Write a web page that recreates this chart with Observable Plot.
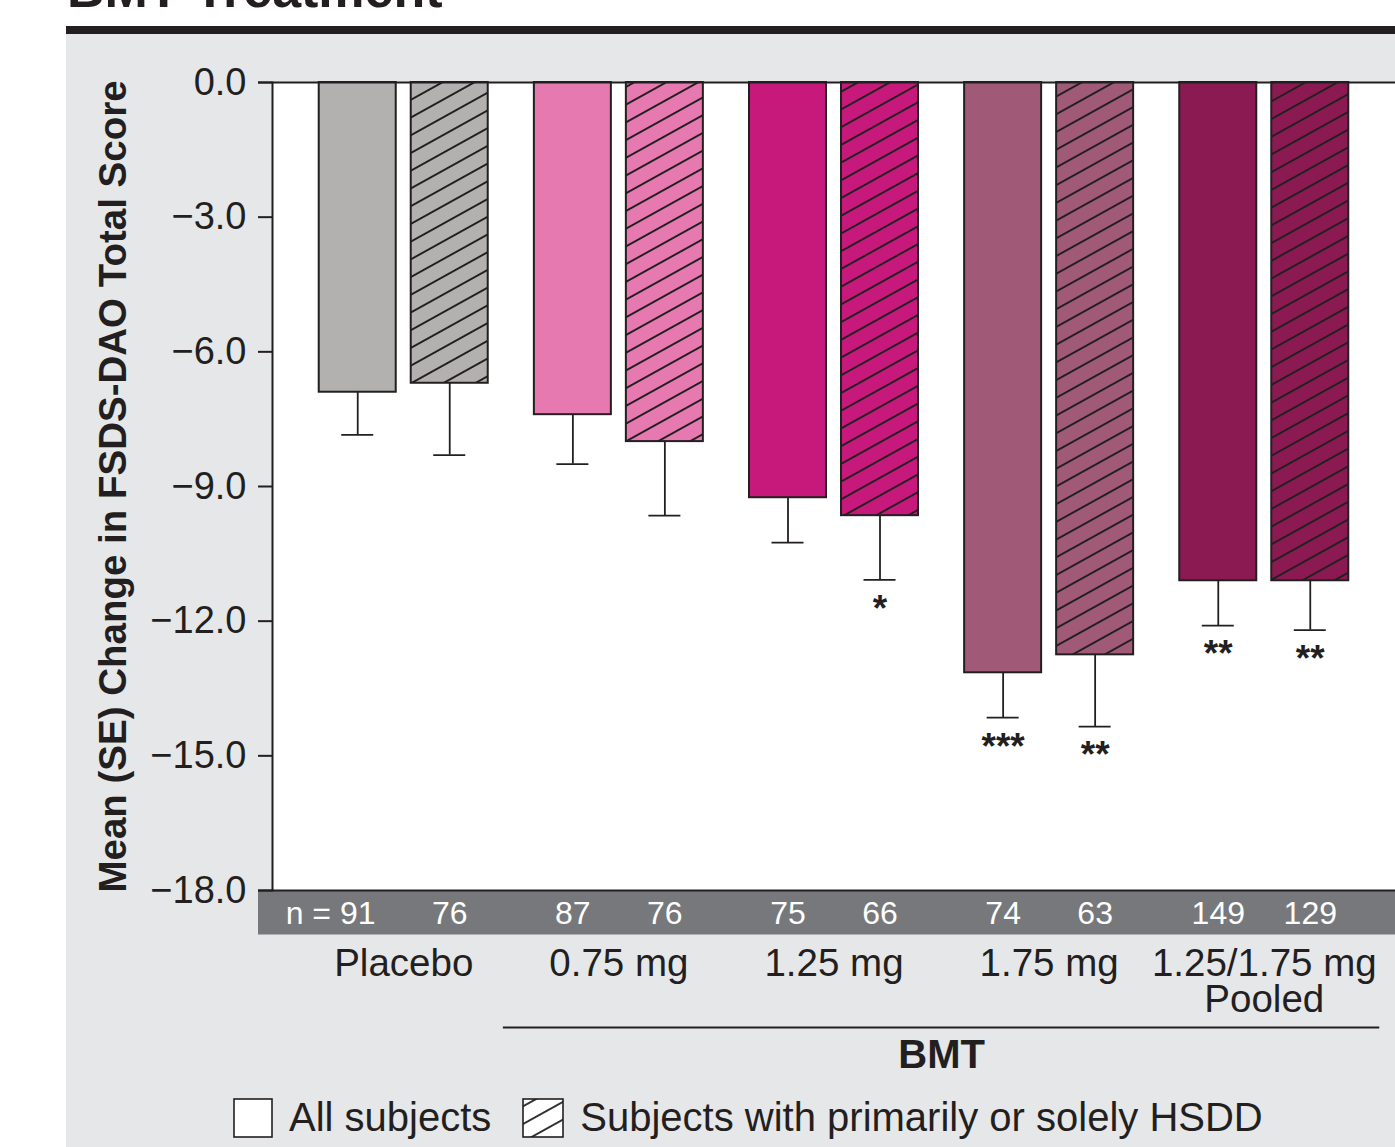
<!DOCTYPE html>
<html>
<head>
<meta charset="utf-8">
<script src="https://cdn.jsdelivr.net/npm/d3@7"></script>
<script src="https://cdn.jsdelivr.net/npm/@observablehq/plot@0.6"></script>
<style>
  body { margin: 0; background: #fff; font-family: "Liberation Sans", Arial, Helvetica, sans-serif; color: #231f20; }
  #page { position: relative; width: 1395px; height: 1147px; overflow: hidden; }
  #title { position: absolute; left: 67px; top: -41px; font-size: 52px; font-weight: bold; line-height: 60px; white-space: nowrap; }
  #panel { position: absolute; left: 66px; top: 26px; width: 1329px; height: 1113px; border-top: 8px solid #231f20; background: #e6e7e9; }
  #chart { position: absolute; left: 0; top: 0; }
  #legend { position: absolute; left: 167px; top: 1061px; display: flex; align-items: center; font-size: 40px; white-space: nowrap; }
  #legend svg { display: block; }
  .lab { margin-left: 16px; }
  .gap { width: 31px; }
</style>
</head>
<body>
<div id="page">
  <div id="title">BMT Treatment</div>
  <div id="panel">
    <div id="chart"></div>
    <div id="legend">
      <svg width="40" height="40"><rect x="1" y="1" width="38" height="38" fill="#fff" stroke="#231f20" stroke-width="1.6"/></svg>
      <span class="lab">All subjects</span>
      <span class="gap"></span>
      <svg width="42" height="40">
        <defs>
          <pattern id="hatchLegend" patternUnits="userSpaceOnUse" width="20" height="15.5" patternTransform="rotate(-29)">
            <line x1="-5" y1="7.75" x2="25" y2="7.75" stroke="#231f20" stroke-width="1.8"/>
          </pattern>
        </defs>
        <rect x="1" y="1" width="40" height="38" fill="#fff"/>
        <rect x="1" y="1" width="40" height="38" fill="url(#hatchLegend)" stroke="#231f20" stroke-width="1.6"/>
      </svg>
      <span class="lab">Subjects with primarily or solely HSDD</span>
    </div>
  </div>
</div>
<script>
// ---- data ----
const groups = ["Placebo", "0.75 mg", "1.25 mg", "1.75 mg", "1.25/1.75 mg\nPooled"];
const subsets = ["All subjects", "Subjects with primarily or solely HSDD"];
const meanAll = [-6.9, -7.4, -9.25, -13.15, -11.1];
const seAll = [0.95, 1.1, 1.0, 1.0, 1.0];
const meanHSDD = [-6.7, -8.0, -9.65, -12.75, -11.1];
const seHSDD = [1.6, 1.65, 1.43, 1.6, 1.1];
const nAll = [91, 87, 75, 74, 149];
const nHSDD = [76, 76, 66, 63, 129];
const starsAll = ["", "", "", "***", "**"];
const starsHSDD = ["", "", "*", "**", "**"];
const groupColors = ["#b2b1af", "#e679b0", "#c7197b", "#a05a77", "#8b1a53"];
const yTicks = [0, -3, -6, -9, -12, -15, -18];
const yLabel = "Mean (SE) Change in FSDS-DAO Total Score";
const bracketLabel = "BMT";

// ---- build table ----
const keyOf = (g, s) => g + "|" + s;
const keys = groups.flatMap(g => subsets.map(s => keyOf(g, s)));
const rowsA = groups.map((g, i) => ({group: g, key: keyOf(g, subsets[0]), mean: meanAll[i], se: seAll[i], n: nAll[i], stars: starsAll[i], color: groupColors[i], i}));
const rowsH = groups.map((g, i) => ({group: g, key: keyOf(g, subsets[1]), mean: meanHSDD[i], se: seHSDD[i], n: nHSDD[i], stars: starsHSDD[i], color: groupColors[i], i}));

// ---- layout ----
const W = 1329, H = 1113;
const mL = 206, mT = 48, mB = 257, mR = 0;
const xScaleOpts = {type: "band", domain: keys, range: [mL, W - mR], paddingInner: 0, paddingOuter: 0.22, round: false};
const xs = Plot.scale({x: xScaleOpts});
const s = xs.bandwidth;
const barW = 77, gapIn = 15, capW = 32;
const insA = {insetLeft: s - barW - gapIn / 2, insetRight: gapIn / 2};
const insH = {insetLeft: gapIn / 2, insetRight: s - barW - gapIn / 2};
const offA = s / 2 - gapIn / 2 - barW / 2;
const offH = -offA;
const capA = {insetLeft: s - gapIn / 2 - barW / 2 - capW / 2, insetRight: gapIn / 2 + barW / 2 - capW / 2};
const capH = {insetLeft: capA.insetRight, insetRight: capA.insetLeft};
const ink = "#231f20";

// bracket under BMT groups
const bL = xs.apply(keyOf(groups[1], subsets[0])) + insA.insetLeft - 31;
const bR = xs.apply(keyOf(groups[4], subsets[1])) + insH.insetLeft + barW + 31;

function hatchDefs() {
  const ns = "http://www.w3.org/2000/svg";
  const defs = document.createElementNS(ns, "defs");
  defs.innerHTML = `<pattern id="hatch" patternUnits="userSpaceOnUse" width="20" height="15.5" patternTransform="rotate(-29)"><line x1="-5" y1="7.75" x2="25" y2="7.75" stroke="${ink}" stroke-width="1.9"/></pattern>`;
  return defs;
}

const fmt = d => (d < 0 ? "\u2212" : "") + Math.abs(d).toFixed(1);

const chart = Plot.plot({
  width: W, height: H,
  marginLeft: mL, marginRight: mR, marginTop: mT, marginBottom: mB,
  x: {...xScaleOpts, axis: null},
  y: {domain: [-18, 0], axis: null},
  color: {type: "identity"},
  style: {fontFamily: '"Liberation Sans", Arial, Helvetica, sans-serif', background: "transparent", color: ink, overflow: "visible"},
  marks: [
    hatchDefs,
    Plot.frame({fill: "white", stroke: null}),
    // n band
    Plot.ruleY([-18], {dy: 22, strokeWidth: 44, insetLeft: -14, stroke: "#77787b"}),
    // bars
    Plot.barY(rowsA, {x: "key", y: "mean", fill: "color", stroke: ink, strokeWidth: 2, ...insA}),
    Plot.barY(rowsH, {x: "key", y: "mean", fill: "color", ...insH}),
    Plot.barY(rowsH, {x: "key", y: "mean", fill: "url(#hatch)", stroke: ink, strokeWidth: 2, ...insH}),
    // error bars
    Plot.ruleX(rowsA, {x: "key", y1: "mean", y2: d => d.mean - d.se, dx: offA, stroke: ink, strokeWidth: 1.8}),
    Plot.ruleX(rowsH, {x: "key", y1: "mean", y2: d => d.mean - d.se, dx: offH, stroke: ink, strokeWidth: 1.8}),
    Plot.tickY(rowsA, {x: "key", y: d => d.mean - d.se, stroke: ink, strokeWidth: 1.8, ...capA}),
    Plot.tickY(rowsH, {x: "key", y: d => d.mean - d.se, stroke: ink, strokeWidth: 1.8, ...capH}),
    // significance stars
    Plot.text(rowsA, {x: "key", y: d => d.mean - d.se, text: "stars", dx: offA, dy: 29, fontSize: 37, fontWeight: "bold"}),
    Plot.text(rowsH, {x: "key", y: d => d.mean - d.se, text: "stars", dx: offH, dy: 29, fontSize: 37, fontWeight: "bold"}),
    // axis lines
    Plot.ruleY([0], {insetLeft: -14, stroke: ink, strokeWidth: 2}),
    Plot.ruleY([-18], {insetLeft: -14, stroke: ink, strokeWidth: 2}),
    Plot.frame({anchor: "left", stroke: ink, strokeWidth: 2}),
    Plot.axisY({ticks: yTicks, tickSize: 14, tickPadding: 12, tickFormat: fmt, fontSize: 38, label: null, stroke: ink, strokeWidth: 2}),
    Plot.text([yLabel], {text: d => d, frameAnchor: "left", textAnchor: "middle", rotate: -90, dx: -159, fontSize: 38.5, fontWeight: "bold"}),
    // n labels
    Plot.text(rowsA.slice(1), {x: "key", y: -18, text: d => String(d.n), dx: offA, dy: 23, fontSize: 32, fill: "white"}),
    Plot.text(rowsH, {x: "key", y: -18, text: d => String(d.n), dx: offH, dy: 23, fontSize: 32, fill: "white"}),
    Plot.text(rowsA.slice(0, 1), {x: "key", y: -18, text: d => "n = " + d.n, dx: offA + 17.8, dy: 23, fontSize: 32, fill: "white", textAnchor: "end"}),
    // group labels
    Plot.text(rowsA, {x: "key", y: -18, text: "group", dx: s / 2, dy: 60, lineAnchor: "top", fontSize: 38.5, lineHeight: 0.94}),
    // BMT bracket
    Plot.ruleY([-18], {dy: 137, insetLeft: bL - mL, insetRight: (W - mR) - bR, stroke: ink, strokeWidth: 2}),
    Plot.text([bracketLabel], {x: () => keyOf(groups[2], subsets[1]), y: -18, text: d => d, dx: s / 2, dy: 177, lineAnchor: "bottom", fontSize: 40, fontWeight: "bold"})
  ]
});
document.getElementById("chart").appendChild(chart);
</script>
</body>
</html>
